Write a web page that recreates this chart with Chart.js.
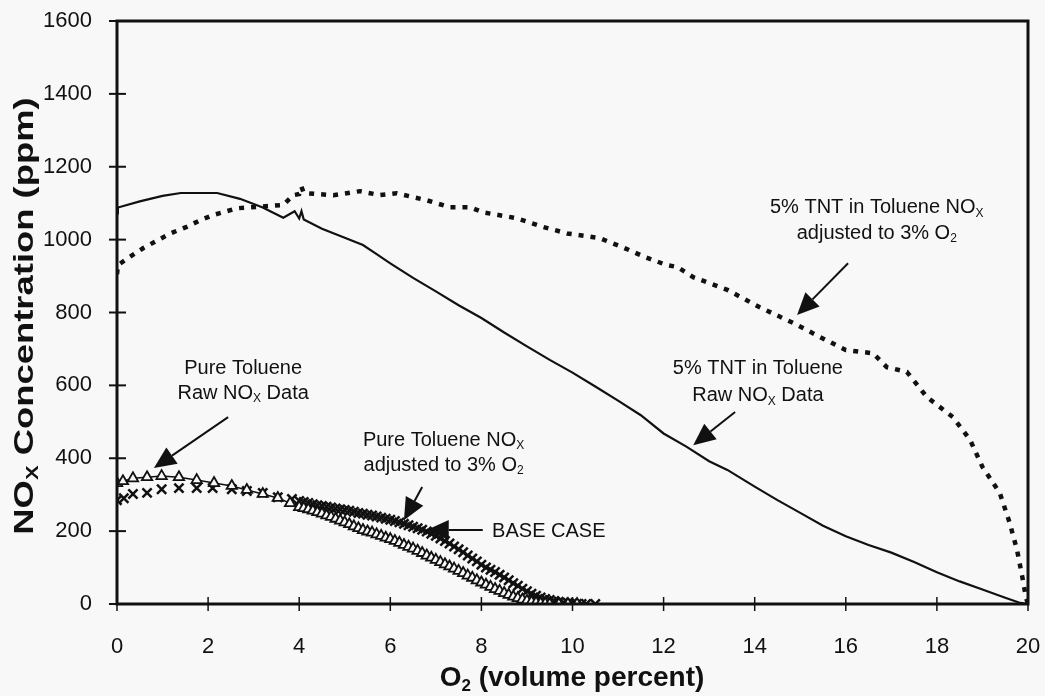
<!DOCTYPE html>
<html>
<head>
<meta charset="utf-8">
<script src="https://cdn.jsdelivr.net/npm/chart.js@4.4.1/dist/chart.umd.min.js"></script>
<style>
  html, body { margin: 0; padding: 0; background: #f8f8f8; }
  #wrap { width: 1045px; height: 696px; }
</style>
</head>
<body>
<div id="wrap"><canvas id="noxChart"></canvas></div>
<script>
(function () {
    // 5% TNT in Toluene - raw NOx (solid line)
    const tntRawX = [0, 0.02, 0.5, 1, 1.4, 2.2, 2.7, 3.2, 3.65, 3.9, 4.0, 4.05, 4.1, 4.5, 5, 5.4, 5.7, 6, 6.5, 7, 7.5, 8, 8.5, 9, 9.5, 10, 10.5, 11, 11.5, 12, 12.5, 13, 13.4, 14, 14.5, 15, 15.5, 16, 16.5, 17, 17.5, 18, 18.5, 19, 19.5, 19.8, 20];
    const tntRawY = [1072, 1088, 1105, 1120, 1128, 1128, 1112, 1088, 1060, 1078, 1058, 1078, 1055, 1030, 1005, 985, 960, 935, 895, 858, 820, 785, 745, 707, 670, 635, 597, 558, 518, 468, 432, 392, 368, 322, 285, 250, 215, 186, 162, 141, 115, 87, 62, 40, 17, 4, 0];

    // 5% TNT in Toluene - adjusted to 3% O2 (dotted line)
    const tntAdjX = [0, 0.02, 0.24, 0.58, 1.17, 1.53, 1.82, 2.1, 2.63, 3.07, 3.65, 3.87, 4.0, 4.05, 4.1, 4.75, 5.33, 5.77, 6.14, 6.8, 7.3, 7.75, 8.03, 8.77, 9.35, 9.88, 10.6, 11.1, 11.6, 12.07, 12.3, 12.65, 13.4, 14.1, 14.85, 15.43, 16.0, 16.6, 16.9, 17.34, 17.78, 18.35, 18.73, 19.0, 19.38, 19.6, 19.76, 19.9, 19.95, 20];
    const tntAdjY = [905, 930, 949, 977, 1017, 1035, 1053, 1067, 1086, 1090, 1095, 1122, 1125, 1145, 1128, 1122, 1133, 1122, 1127, 1108, 1089, 1089, 1075, 1059, 1035, 1017, 1004, 979, 952, 930, 925, 897, 862, 815, 771, 733, 697, 688, 650, 637, 568, 513, 450, 376, 305, 222, 148, 58, 20, 0];

    // Pure Toluene - raw NOx (triangles)
    const tolRawX = [0, 0.13, 0.35, 0.66, 0.98, 1.36, 1.75, 2.13, 2.52, 2.85, 3.2, 3.53, 3.8,
        4.0, 4.1, 4.2, 4.3, 4.4, 4.5, 4.6, 4.7, 4.8, 4.9, 5.0, 5.1, 5.2, 5.3, 5.4, 5.5, 5.6, 5.7, 5.8, 5.9,
        6.0, 6.1, 6.2, 6.3, 6.4, 6.5, 6.6, 6.7, 6.8, 6.9, 7.0, 7.1, 7.2, 7.3, 7.4, 7.5, 7.6, 7.7, 7.8, 7.9,
        8.0, 8.1, 8.2, 8.3, 8.4, 8.5, 8.6, 8.7, 8.8, 8.9, 9.0, 9.1, 9.2, 9.3, 9.4, 9.5, 9.7, 9.9, 10.1];
    const tolRawY = [332, 337, 345, 348, 351, 348, 340, 332, 324, 313, 302, 291, 277,
        266, 263, 260, 256, 252, 248, 243, 239, 234, 229, 224, 219, 213, 208, 203, 199, 196, 191, 187, 182,
        178, 173, 168, 162, 157, 152, 146, 140, 133, 127, 121, 115, 109, 103, 97, 91, 85, 78, 72, 65,
        59, 53, 47, 41, 36, 30, 25, 20, 16, 12, 9, 6, 4, 2, 1, 0, 0, 0, 0];

    // Pure Toluene - adjusted to 3% O2 (x marks)
    const tolAdjX = [0, 0.15, 0.35, 0.66, 0.98, 1.36, 1.75, 2.1, 2.52, 2.85, 3.2, 3.53, 3.84, 4.0,
        4.1, 4.2, 4.3, 4.4, 4.5, 4.6, 4.7, 4.8, 4.9, 5.0, 5.1, 5.2, 5.3, 5.4, 5.5, 5.6, 5.7, 5.8, 5.9,
        6.0, 6.1, 6.2, 6.3, 6.4, 6.5, 6.6, 6.7, 6.8, 6.9, 7.0, 7.1, 7.2, 7.3, 7.4, 7.5, 7.6, 7.7, 7.8, 7.9,
        8.0, 8.1, 8.2, 8.3, 8.4, 8.5, 8.6, 8.7, 8.8, 8.9, 9.0, 9.1, 9.2, 9.3, 9.4, 9.5, 9.6, 9.7, 9.8, 9.9,
        10.0, 10.1, 10.2, 10.3, 10.5];
    const tolAdjY = [285, 290, 302, 305, 315, 318, 318, 318, 315, 310, 305, 293, 288, 283,
        280, 277, 274, 271, 269, 267, 265, 262, 260, 258, 256, 253, 250, 248, 245, 243, 240, 237, 234,
        231, 228, 224, 220, 216, 212, 208, 204, 199, 193, 187, 180, 173, 166, 158, 150, 142, 133, 125, 117,
        108, 100, 94, 88, 80, 73, 65, 57, 50, 42, 35, 28, 23, 18, 14, 11, 8, 6, 4, 3,
        2, 1, 0, 0, 0];

    // axis ticks
    const xTicks = [0, 2, 4, 6, 8, 10, 12, 14, 16, 18, 20];
    const yTicks = [0, 200, 400, 600, 800, 1000, 1200, 1400, 1600];

    // text labels: [text, subscript?] segments per line, placed in data units
    const notes = [
        { x: 16.68, y: [1089, 1018], lines: [[['5% TNT in Toluene NO', 0], ['X', 1]], [['adjusted to 3% O', 0], ['2', 1]]] },
        { x: 14.07, y: [645, 571], lines: [[['5% TNT in Toluene', 0]], [['Raw NO', 0], ['X', 1], [' Data', 0]]] },
        { x: 2.77, y: [647, 579], lines: [[['Pure Toluene', 0]], [['Raw NO', 0], ['X', 1], [' Data', 0]]] },
        { x: 7.17, y: [450, 381], lines: [[['Pure Toluene NO', 0], ['X', 1]], [['adjusted to 3% O', 0], ['2', 1]]] },
        { x: 9.48, y: [198], lines: [[['BASE CASE', 0]]] }
    ];
    // arrows: tail -> tip, data units
    const arrows = [
        [16.05, 935, 14.93, 793],
        [13.57, 527, 12.65, 436],
        [2.44, 513, 0.81, 373],
        [6.70, 321, 6.30, 230],
        [8.03, 203, 6.80, 203]
    ];

    const pts = (xs, ys) => xs.map((x, i) => ({ x: x, y: ys[i] }));
    const BG = '#f8f8f8';
    const INK = '#111';

    function richWidth(ctx, segs, size, weight) {
        let w = 0;
        segs.forEach(s => {
            ctx.font = `${weight} ${s[1] ? Math.round(size * 0.62) : size}px "Liberation Sans", Arial, sans-serif`;
            w += ctx.measureText(s[0]).width;
        });
        return w;
    }
    function drawRich(ctx, segs, cx, cy, size, weight) {
        let x = cx - richWidth(ctx, segs, size, weight) / 2;
        ctx.textAlign = 'left';
        ctx.textBaseline = 'middle';
        segs.forEach(s => {
            const sz = s[1] ? Math.round(size * 0.62) : size;
            ctx.font = `${weight} ${sz}px "Liberation Sans", Arial, sans-serif`;
            ctx.fillText(s[0], x, cy + (s[1] ? size * 0.3 : 0));
            x += ctx.measureText(s[0]).width;
        });
    }

    const decor = {
        id: 'decor',
        beforeDraw(chart) {
            const c = chart.ctx;
            c.save();
            c.fillStyle = BG;
            c.fillRect(0, 0, chart.width, chart.height);
            c.restore();
        },
        afterDraw(chart) {
            const c = chart.ctx;
            const a = chart.chartArea;
            const xs = chart.scales.x, ys = chart.scales.y;
            c.save();
            c.strokeStyle = INK;
            c.fillStyle = INK;
            // frame
            c.lineWidth = 3;
            c.strokeRect(a.left, a.top, a.right - a.left, a.bottom - a.top);
            // cross ticks
            c.lineWidth = 2;
            yTicks.forEach(v => {
                const py = ys.getPixelForValue(v);
                c.beginPath(); c.moveTo(a.left - 8, py); c.lineTo(a.left + 9, py); c.stroke();
            });
            c.lineWidth = 1.5;
            xTicks.forEach(v => {
                const px = xs.getPixelForValue(v);
                c.beginPath(); c.moveTo(px, a.bottom - 7); c.lineTo(px, a.bottom + 7); c.stroke();
            });
            // notes
            notes.forEach(n => {
                n.lines.forEach((segs, i) => {
                    drawRich(c, segs, xs.getPixelForValue(n.x), ys.getPixelForValue(n.y[i]), 20, 'normal');
                });
            });
            // arrows
            arrows.forEach(r => {
                const x0 = xs.getPixelForValue(r[0]), y0 = ys.getPixelForValue(r[1]);
                const x1 = xs.getPixelForValue(r[2]), y1 = ys.getPixelForValue(r[3]);
                const ang = Math.atan2(y1 - y0, x1 - x0);
                const hl = 22, hw = 10;
                const bx = x1 - hl * Math.cos(ang), by = y1 - hl * Math.sin(ang);
                c.lineWidth = 2;
                c.beginPath(); c.moveTo(x0, y0); c.lineTo(bx, by); c.stroke();
                c.beginPath();
                c.moveTo(x1, y1);
                c.lineTo(bx + hw * Math.sin(ang), by - hw * Math.cos(ang));
                c.lineTo(bx - hw * Math.sin(ang), by + hw * Math.cos(ang));
                c.closePath(); c.fill();
            });
            // axis titles
            drawRich(c, [['O', 0], ['2', 1], [' (volume percent)', 0]], 572, 678, 28, 'bold');
            c.save();
            c.translate(25, 316);
            c.rotate(-Math.PI / 2);
            c.scale(1.3, 1);
            drawRich(c, [['NO', 0], ['X', 1], [' Concentration (ppm)', 0]], 0, 0, 28, 'bold');
            c.restore();
            c.restore();
        }
    };

    const ctx = document.getElementById('noxChart').getContext('2d');
    new Chart(ctx, {
        type: 'scatter',
        data: {
            datasets: [
                {
                    label: '5% TNT in Toluene Raw NOx Data',
                    data: pts(tntRawX, tntRawY),
                    showLine: true,
                    borderColor: INK,
                    borderWidth: 2.2,
                    pointRadius: 0
                },
                {
                    label: '5% TNT in Toluene NOx adjusted to 3% O2',
                    data: pts(tntAdjX, tntAdjY),
                    showLine: true,
                    borderColor: INK,
                    borderWidth: 4.5,
                    borderDash: [5, 7],
                    pointRadius: 0
                },
                {
                    label: 'Pure Toluene Raw NOx Data',
                    data: pts(tolRawX, tolRawY),
                    showLine: true,
                    borderColor: INK,
                    borderWidth: 1.5,
                    pointStyle: 'triangle',
                    pointRadius: 6,
                    pointBorderWidth: 1.8,
                    pointBackgroundColor: BG,
                    pointBorderColor: INK
                },
                {
                    label: 'Pure Toluene NOx adjusted to 3% O2',
                    data: pts(tolAdjX, tolAdjY),
                    showLine: false,
                    pointStyle: 'crossRot',
                    pointRadius: 6.5,
                    pointBorderWidth: 2.5,
                    pointBorderColor: INK
                }
            ]
        },
        options: {
            responsive: true,
            maintainAspectRatio: false,
            animation: false,
            layout: { padding: { left: 0, right: 17, top: 21, bottom: 0 } },
            plugins: {
                legend: { display: false },
                title: { display: false },
                tooltip: { enabled: false }
            },
            scales: {
                x: {
                    type: 'linear',
                    min: 0,
                    max: 20,
                    afterFit: s => { s.height = 92; s.paddingLeft = 0; s.paddingRight = 0; },
                    afterBuildTicks: s => { s.ticks = xTicks.map(v => ({ value: v })); },
                    grid: { display: false },
                    border: { display: false },
                    ticks: {
                        padding: 22,
                        color: INK,
                        maxRotation: 0,
                        callback: v => String(v),
                        font: { family: '"Liberation Sans", Arial, sans-serif', size: 22 }
                    }
                },
                y: {
                    type: 'linear',
                    min: 0,
                    max: 1600,
                    afterFit: s => { s.width = 117; s.paddingTop = 0; s.paddingBottom = 0; },
                    afterBuildTicks: s => { s.ticks = yTicks.map(v => ({ value: v })); },
                    grid: { display: false },
                    border: { display: false },
                    ticks: {
                        padding: 17,
                        color: INK,
                        callback: v => String(v),
                        font: { family: '"Liberation Sans", Arial, sans-serif', size: 22 }
                    }
                }
            }
        },
        plugins: [decor]
    });
})();
</script>
</body>
</html>
